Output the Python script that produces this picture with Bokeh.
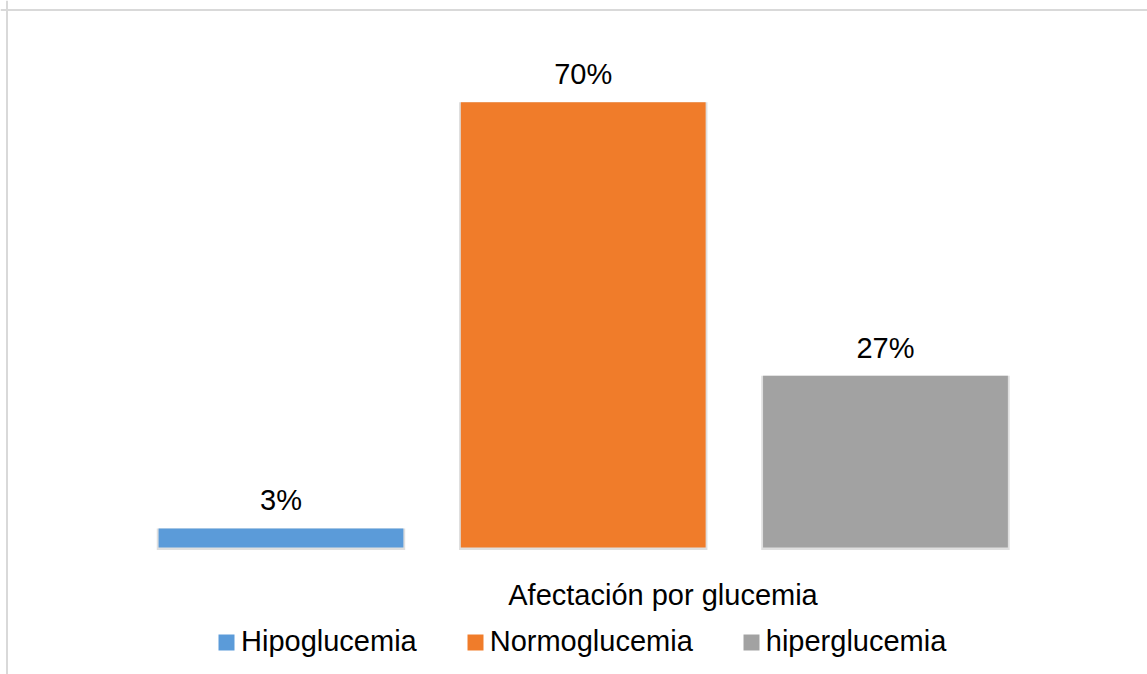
from bokeh.plotting import figure
from bokeh.models import Range1d, Label, Legend, LegendItem, Span, ColumnDataSource
from bokeh.core.properties import value
from bokeh.embed import file_html
from bokeh.resources import INLINE

categories = ["Hipoglucemia", "Normoglucemia", "hiperglucemia"]
values = [3, 70, 27]
colors = ["#5b9bd9", "#f07c2a", "#a2a2a2"]
labels = [f"{v}%" for v in values]
axis_title = "Afectación por glucemia"

FONT_NAME = "Liberation Sans"
FONT = value(FONT_NAME)
FS = "29px"

positions = list(range(len(categories)))
src = ColumnDataSource(dict(x=positions, top=values, cat=categories,
                            color=colors, label=labels))

W, H = 1147, 674
p = figure(width=W, height=H,
           x_range=Range1d(-0.928, 2.867), y_range=Range1d(-19.97, 85.99),
           output_backend="svg", toolbar_location=None, min_border=0,
           x_axis_type=None, y_axis_type=None)
p.grid.visible = False
p.outline_line_color = None
p.background_fill_color = "white"
p.border_fill_color = "white"

# soft shadow
p.vbar(x="x", top="top", bottom=-0.4, width=0.822, source=src,
       fill_color="#808080", fill_alpha=0.25, line_color=None)
bars = p.vbar(x="x", top="top", bottom=0, width=0.81, source=src,
              fill_color="color", line_color=None)

p.text(x="x", y="top", text="label", source=src, text_align="center",
       text_baseline="alphabetic", y_offset=-28, text_font=FONT,
       text_font_size=FS, text_color="#000000")

p.add_layout(Label(x=662.5, y=80, x_units="screen", y_units="screen",
                   text=axis_title, text_align="center",
                   text_baseline="alphabetic", text_font=FONT_NAME,
                   text_font_size=FS, text_color="#000000"))

legend = Legend(items=[LegendItem(label=c, renderers=[bars], index=i)
                       for i, c in enumerate(categories)],
                orientation="horizontal", location=(216, 16),
                glyph_width=20, glyph_height=20, label_standoff=5,
                spacing=48, padding=0, margin=0,
                border_line_color=None, background_fill_alpha=0,
                label_text_font=FONT_NAME, label_text_font_size=FS,
                label_text_color="#000000")
p.add_layout(legend)

p.add_layout(Span(location=6.5, location_units="screen", dimension="height",
                  line_color="#d9d9d9", line_width=2))
p.add_layout(Span(location=H - 9.5, location_units="screen", dimension="width",
                  line_color="#d9d9d9", line_width=2))

open("out.html", "w").write(file_html(p, INLINE))
